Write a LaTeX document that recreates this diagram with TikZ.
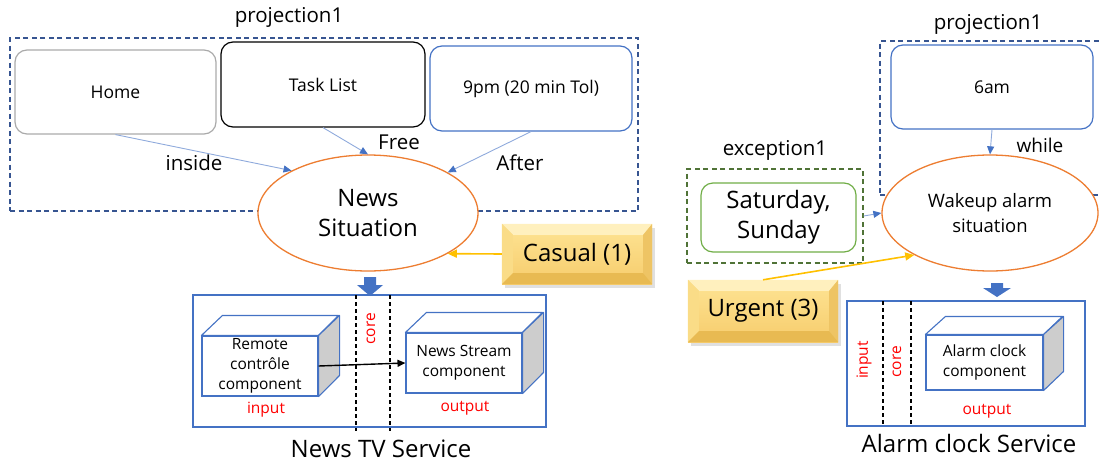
\documentclass[tikz,border=0pt]{standalone}
\usepackage{fontspec}
\setmainfont{Open Sans}
\usetikzlibrary{shapes.geometric,arrows.meta,calc}
\definecolor{dblue}{RGB}{68,114,196}
\definecolor{lblue}{RGB}{143,170,220}
\definecolor{dashblue}{RGB}{55,85,145}
\definecolor{orng}{RGB}{237,125,49}
\definecolor{grn}{RGB}{112,173,71}
\definecolor{dgrn}{RGB}{80,115,55}
\definecolor{gold}{RGB}{255,192,0}
\definecolor{graybox}{RGB}{170,170,170}
\definecolor{sidegray}{RGB}{205,205,205}
\definecolor{bevtop}{RGB}{255,240,190}
\definecolor{bevleft}{RGB}{250,220,135}
\definecolor{bevright}{RGB}{238,196,100}
\definecolor{bevbot}{RGB}{232,186,82}
\definecolor{facetop}{RGB}{254,228,148}
\definecolor{facebot}{RGB}{246,204,108}
\begin{document}
\begin{tikzpicture}[x=1pt,y=-1pt,
  fbox/.style={font=\fontsize{17.5}{22}\selectfont},
  flab/.style={font=\fontsize{20.5}{25}\selectfont},
  fbig/.style={font=\fontsize{24}{30}\selectfont},
  fsmall/.style={font=\fontsize{15.5}{20}\selectfont},
  rbox/.style={draw, rounded corners=12pt, line width=1.2pt, inner sep=0pt, align=center, fbox},
  projbox/.style={draw=dashblue, dash pattern=on 5pt off 3.5pt, line width=1.2pt, inner sep=0pt},
  sit/.style={ellipse, draw=orng, fill=white, line width=1.3pt, inner sep=0pt, align=center},
  conn/.style={lblue, line width=0.9pt, -{Triangle[length=8pt,width=7pt,color=dblue]}},
  goldarrow/.style={gold, line width=1.6pt, -{Triangle[length=9pt,width=8pt]}},
  cubefront/.style={draw=dblue, fill=white, line width=1.1pt, inner sep=0pt, align=center, fsmall},
  cubetop/.style={draw=dblue, fill=white, line width=1.1pt, line join=round},
  cubeside/.style={draw=dblue, fill=sidegray, line width=1.1pt, line join=round},
  svcbox/.style={draw=dblue, line width=1.2pt, inner sep=0pt},
  sep/.style={black, line width=1.6pt, dash pattern=on 4pt off 3pt},
  redlab/.style={red, fsmall},
  bevel/.style={inner sep=0pt, top color=facetop, bottom color=facebot, fbig},
  bshadow/.style={fill=black, opacity=0.12},
  blockarrow/.style={fill=dblue, draw=none}
]
\useasboundingbox (0,0) rectangle (1099,463);

% ---------------- left part ----------------
\node[projbox, minimum width=628, minimum height=173] (projL) at (324,124.5) {};
\node[flab] (projLlab) at (289,17) {projection1};
\node[rbox, draw=graybox, minimum width=201, minimum height=84] (home) at (115.5,92) {Home};
\node[rbox, draw=black, minimum width=204, minimum height=85] (task) at (323,84.5) {Task List};
\node[rbox, draw=dblue, minimum width=202, minimum height=85] (pm) at (531,88.5) {9pm (20 min Tol)};
\node[sit, minimum width=220, minimum height=116, fbig] (news) at (368,213) {News\\Situation};

\draw[conn] (home.south) -- (news.151);
\draw[conn] (task.south) -- (news.north);
\draw[conn] (pm.south) -- (news.27);
\node[flab] (linside) at (194,163) {inside};
\node[flab] (lfree) at (399,142) {Free};
\node[flab] (lafter) at (520,163) {After};

% Casual bevel box
\coordinate (cshA) at (505,228); \coordinate (cshB) at (655,288);
\fill[bshadow] (cshA) rectangle (cshB);
\node[bevel, minimum width=150, minimum height=60] (casual) at (577,254) {Casual (1)};
\fill[bevtop] (casual.north west) -- (casual.north east) -- ($(casual.north east)+(-9,11)$) -- ($(casual.north west)+(11,11)$) -- cycle;
\fill[bevleft] (casual.north west) -- ($(casual.north west)+(11,11)$) -- ($(casual.south west)+(11,-11)$) -- (casual.south west) -- cycle;
\fill[bevright] (casual.north east) -- ($(casual.north east)+(-9,11)$) -- ($(casual.south east)+(-9,-11)$) -- (casual.south east) -- cycle;
\fill[bevbot] (casual.south west) -- ($(casual.south west)+(11,-11)$) -- ($(casual.south east)+(-9,-11)$) -- (casual.south east) -- cycle;
\draw[goldarrow] (casual.west) -- (news.-27);

% News TV service
\path[blockarrow] (364,277) -- (376,277) -- (376,285) -- (383,285) -- (370,296) -- (357,285) -- (364,285) -- cycle;
\node[svcbox, minimum width=353, minimum height=132] (tvsvc) at (369.5,361) {};
\coordinate (s1t) at (356,295); \coordinate (s1b) at (356,431);
\coordinate (s2t) at (390,295); \coordinate (s2b) at (390,431);
\draw[sep] (s1t) -- (s1b);
\draw[sep] (s2t) -- (s2b);
\node[redlab, rotate=90] (coreL) at (371,329) {core};

\node[cubefront, minimum width=116, minimum height=60] (rc) at (260,366) {Remote\\contrôle\\component};
\draw[cubetop] (rc.north west) -- ++(21,-20) -- ++(116,0) -- (rc.north east) -- cycle;
\draw[cubeside] (rc.north east) -- ++(21,-20) -- ++(0,60) -- (rc.south east) -- cycle;

\node[cubefront, minimum width=116, minimum height=60] (ns) at (464,363) {News Stream\\component};
\draw[cubetop] (ns.north west) -- ++(21,-20) -- ++(116,0) -- (ns.north east) -- cycle;
\draw[cubeside] (ns.north east) -- ++(21,-20) -- ++(0,60) -- (ns.south east) -- cycle;

\draw[black, line width=1.4pt, -{Triangle[length=8pt,width=7pt]}] (rc.east) -- (ns.west);
\node[redlab] (inL) at (266,410) {input};
\node[redlab] (outL) at (465,408) {output};
\node[fbig] (tvtitle) at (381,449) {News TV Service};

% ---------------- right part ----------------
\node[projbox, minimum width=232, minimum height=154] (projR) at (996,118) {};
\node[flab] (projRlab) at (988,24) {projection1};
\node[rbox, draw=dblue, minimum width=202, minimum height=84] (sixam) at (992,87) {6am};
\node[sit, minimum width=216, minimum height=116, font=\fontsize{18.5}{25}\selectfont] (wake) at (990,213) {Wakeup alarm\\situation};
\draw[conn] (sixam.south) -- (wake.north);
\node[font=\fontsize{19}{23}\selectfont] (lwhile) at (1040,145) {while};

\node[draw=dgrn, dash pattern=on 5pt off 3.5pt, line width=1.2pt, inner sep=0pt, minimum width=176, minimum height=94] (exc) at (775,216) {};
\node[flab] (exclab) at (775,150) {exception1};
\node[rbox, draw=grn, minimum width=155, minimum height=69, fbig] (sat) at (778.5,217.5) {Saturday,\\Sunday};
\draw[conn] (exc.east) -- (wake.west);

\coordinate (ushA) at (691,284); \coordinate (ushB) at (841,346);
\fill[bshadow] (ushA) rectangle (ushB);
\node[bevel, minimum width=150, minimum height=62] (urgent) at (763,311) {Urgent (3)};
\fill[bevtop] (urgent.north west) -- (urgent.north east) -- ($(urgent.north east)+(-9,11)$) -- ($(urgent.north west)+(11,11)$) -- cycle;
\fill[bevleft] (urgent.north west) -- ($(urgent.north west)+(11,11)$) -- ($(urgent.south west)+(11,-11)$) -- (urgent.south west) -- cycle;
\fill[bevright] (urgent.north east) -- ($(urgent.north east)+(-9,11)$) -- ($(urgent.south east)+(-9,-11)$) -- (urgent.south east) -- cycle;
\fill[bevbot] (urgent.south west) -- ($(urgent.south west)+(11,-11)$) -- ($(urgent.south east)+(-9,-11)$) -- (urgent.south east) -- cycle;
\draw[goldarrow] (urgent.north) -- (wake.209);

\path[blockarrow] (991,283) -- (1003,283) -- (1003,288) -- (1011,288) -- (997,297) -- (983,288) -- (991,288) -- cycle;
\node[svcbox, minimum width=238, minimum height=125] (alsvc) at (966,363.5) {};
\coordinate (r1t) at (883,301); \coordinate (r1b) at (883,426);
\coordinate (r2t) at (911,301); \coordinate (r2b) at (911,426);
\draw[sep] (r1t) -- (r1b);
\draw[sep] (r2t) -- (r2b);
\node[redlab, rotate=90] (inR) at (864,360) {input};
\node[redlab, rotate=90] (coreR) at (897,362) {core};

\node[cubefront, minimum width=117, minimum height=55] (ac) at (984.5,362.5) {Alarm clock\\component};
\draw[cubetop] (ac.north west) -- ++(20,-18) -- ++(117,0) -- (ac.north east) -- cycle;
\draw[cubeside] (ac.north east) -- ++(20,-18) -- ++(0,55) -- (ac.south east) -- cycle;
\node[redlab] (outR) at (987,411) {output};
\node[fbig] (altitle) at (969,443) {Alarm clock Service};
\end{tikzpicture}
\end{document}
